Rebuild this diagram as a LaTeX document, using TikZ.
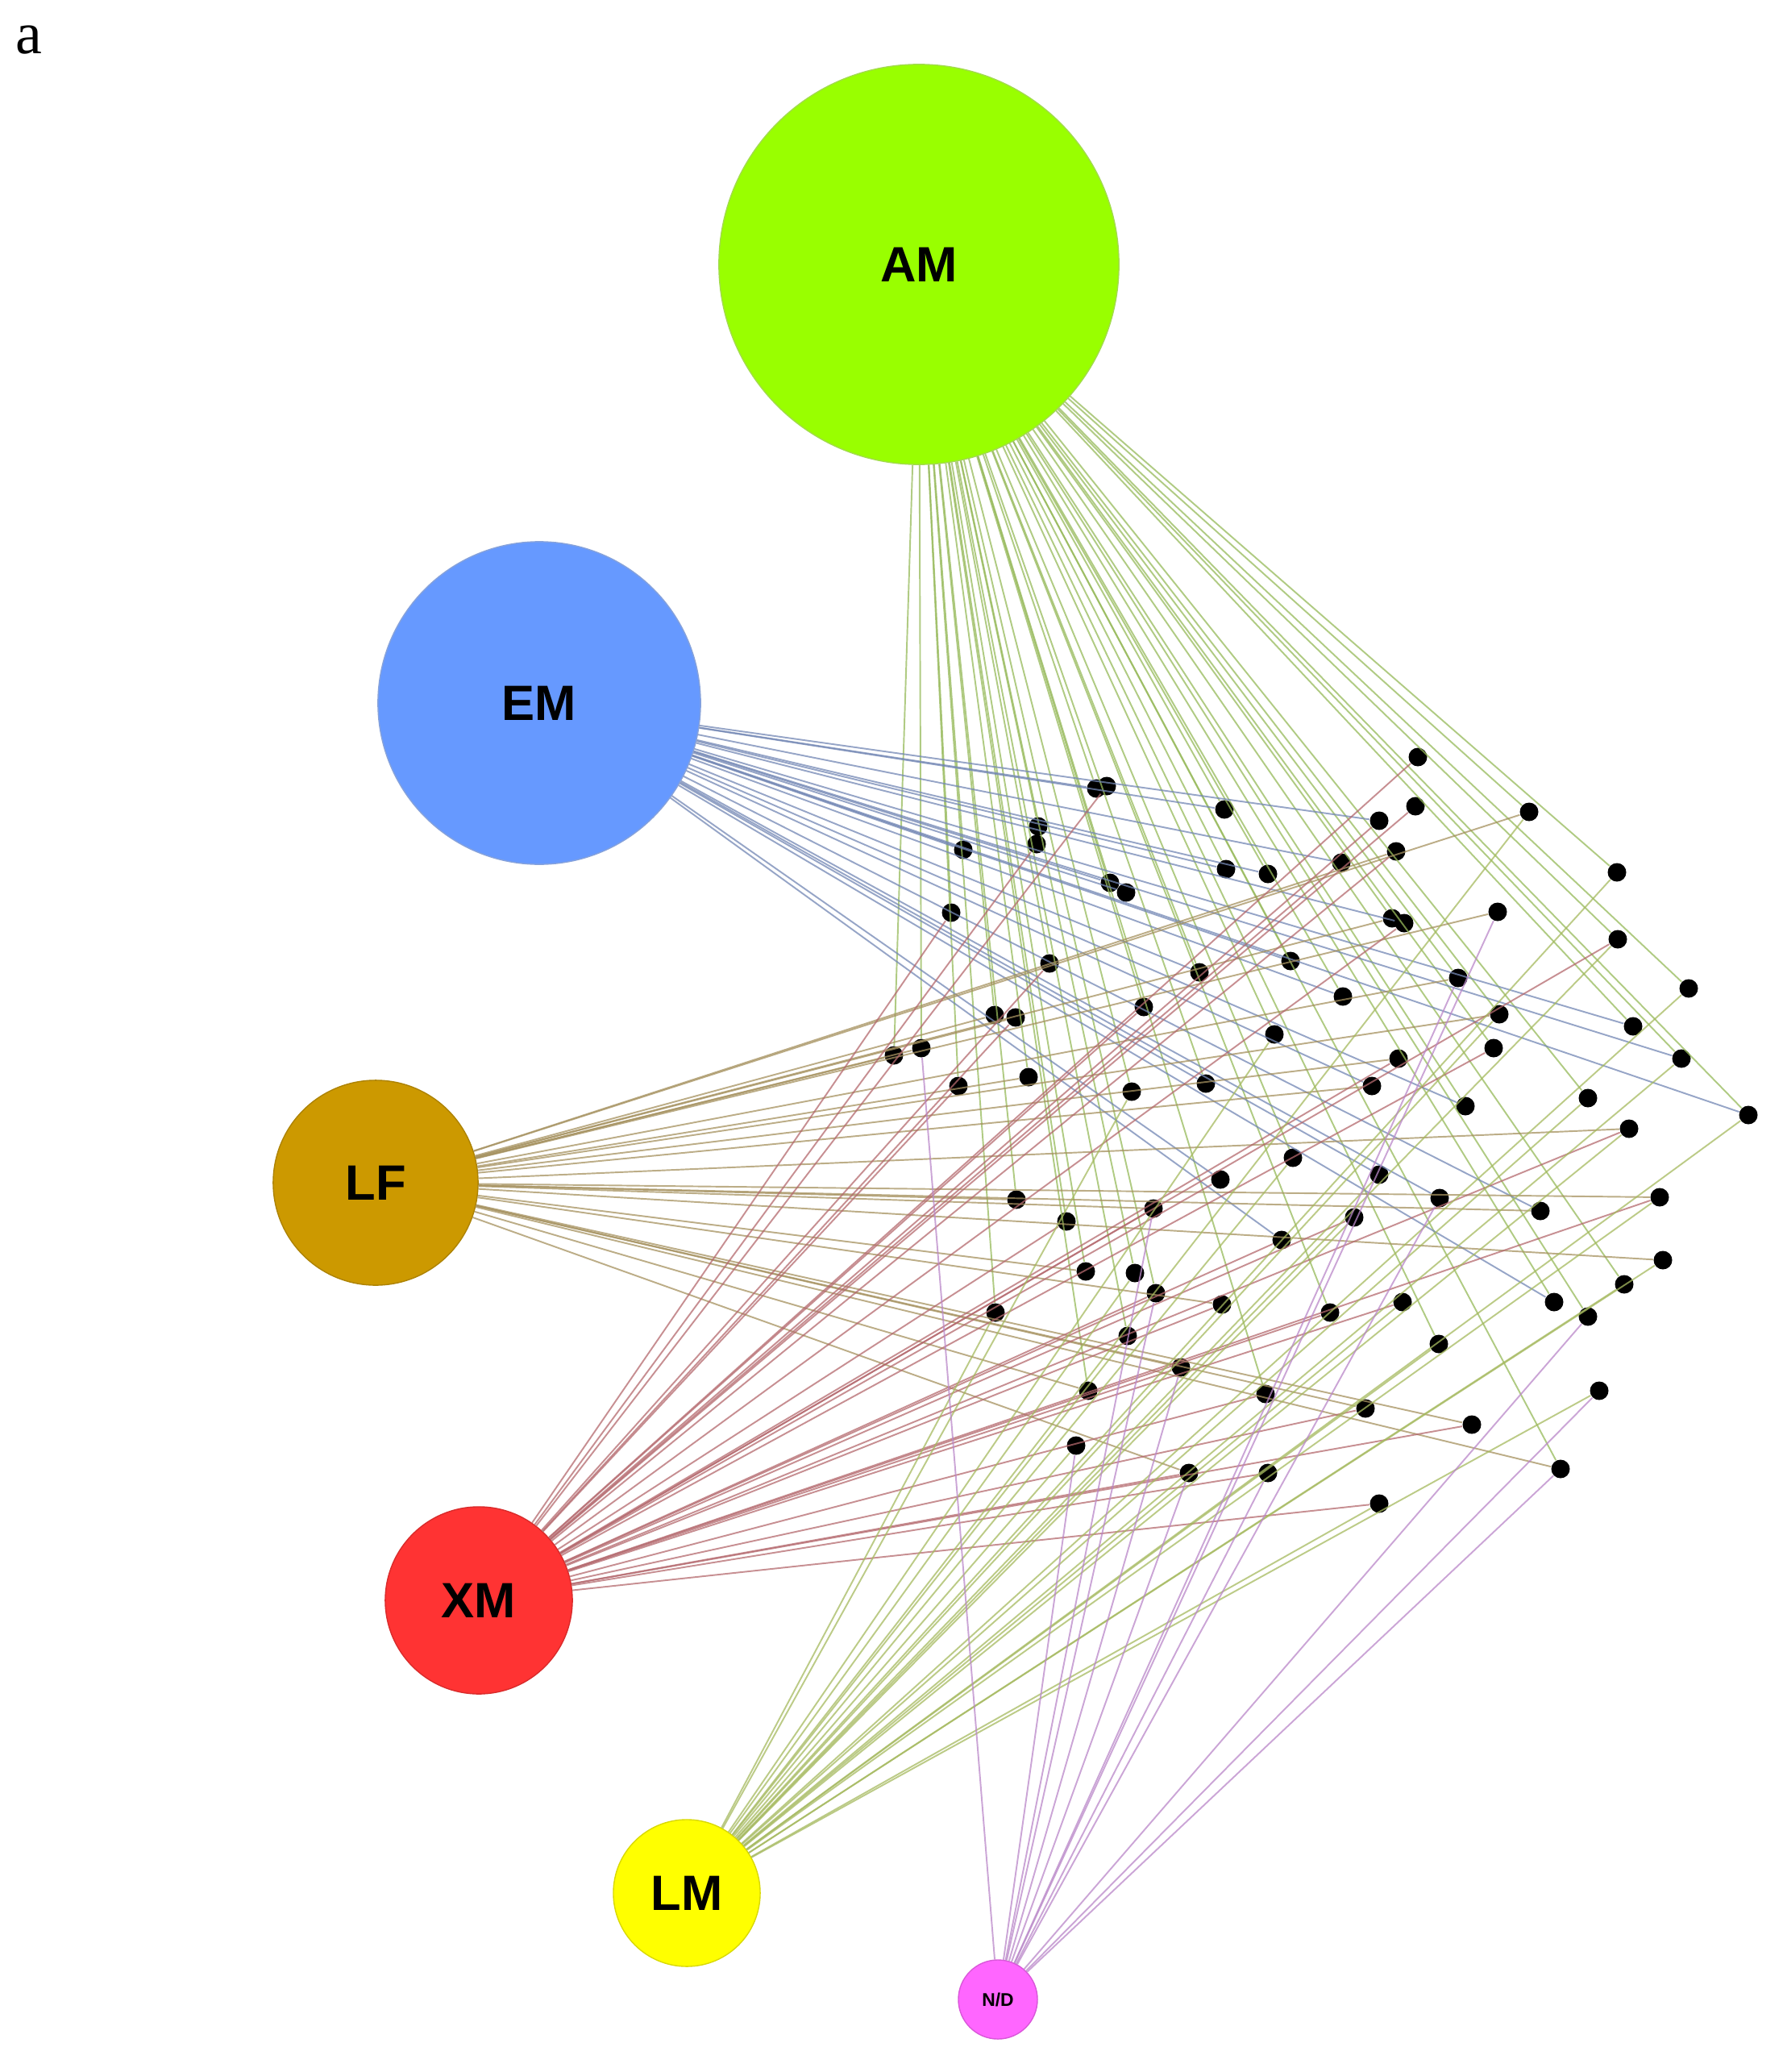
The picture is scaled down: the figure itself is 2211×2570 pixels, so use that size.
\documentclass[tikz,border=0pt]{standalone}
\usepackage{fontspec}
\setmainfont{Liberation Serif}
\setsansfont{Liberation Sans}
\usepackage{tikz}

\definecolor{amgreen}{RGB}{153,255,0}
\definecolor{emblue}{RGB}{102,153,255}
\definecolor{lfgold}{RGB}{204,153,0}
\definecolor{xmred}{RGB}{255,51,51}
\definecolor{lmyellow}{RGB}{255,255,0}
\definecolor{ndpink}{RGB}{255,102,255}

\definecolor{amedge}{RGB}{150,185,90}
\definecolor{emedge}{RGB}{115,135,180}
\definecolor{lfedge}{RGB}{165,145,95}
\definecolor{xmedge}{RGB}{180,105,110}
\definecolor{lmedge}{RGB}{165,185,95}
\definecolor{ndedge}{RGB}{185,135,200}

\tikzset{
  hub/.style={circle, inner sep=0pt, font=\sffamily\bfseries\fontsize{17.5}{20}\selectfont},
  dot/.style={circle, fill=black, inner sep=0pt, minimum size=0.23cm},
  link/.style={line width=0.55pt, opacity=0.75}
}

\begin{document}
\begin{tikzpicture}[x=0.01cm,y=-0.01cm]
			\useasboundingbox (0,0) rectangle (2211,2570);
			\node[font=\fontsize{21}{24}\selectfont] (panel) at (36,50) {a};
			
			% hubs
			\node[hub, fill=amgreen, draw=amgreen!80!black!70, minimum size=4.96cm] (AM) at (1140,328) {AM};
			\node[hub, fill=emblue, draw=emblue!80!black!70, minimum size=4.0cm] (EM) at (669,872) {EM};
			\node[hub, fill=lfgold, draw=lfgold!85!black, minimum size=2.54cm] (LF) at (466,1467) {LF};
			\node[hub, fill=xmred, draw=xmred!85!black, minimum size=2.32cm] (XM) at (594,1985) {XM};
			\node[hub, fill=lmyellow, draw=lmyellow!85!black, minimum size=1.82cm] (LM) at (852,2348) {LM};
			\node[hub, fill=ndpink, draw=ndpink!85!black, minimum size=0.98cm,
			      font=\sffamily\bfseries\fontsize{6.5}{7}\selectfont] (ND) at (1238,2480) {N/D};
			
			% species
			\foreach \x/\y [count=\i] in {
				1360/978, 1373/975, 1519/1004, 1288/1025, 1286/1047, 1195/1054, 1521/1078, 1573/1084,
				1377/1095, 1397/1107, 1180/1132, 1601/1192, 1302/1195, 1488/1206, 1419/1249, 1234/1259,
				1260/1262, 1581/1283, 1143/1300, 1109/1309, 1276/1336, 1189/1347, 1496/1344, 1404/1354,
				1759/939, 1756/1000, 1897/1007, 1711/1018, 1732/1056, 1664/1070, 2006/1082, 1858/1131,
				1727/1139, 1742/1145, 2007/1165, 1809/1213, 2095/1226, 1666/1236, 1860/1258, 2026/1273,
				1853/1300, 2086/1313, 1735/1313, 1702/1347, 1970/1362, 1818/1372, 2169/1383, 2021/1400,
				1604/1436, 1514/1463, 1261/1488, 1431/1499, 1323/1515, 1590/1538, 1347/1577, 1408/1579,
				1434/1604, 1516/1618, 1235/1628, 1399/1657, 1465/1696, 1350/1725, 1570/1729, 1335/1793,
				1475/1827, 1573/1827, 1711/1457, 1786/1486, 2059/1485, 1911/1502, 1680/1510, 2063/1563,
				2015/1593, 1928/1615, 1970/1633, 1740/1615, 1650/1628, 1785/1667, 1984/1725, 1694/1747,
				1826/1767, 1936/1822, 1711/1865}
				\node[dot] (d\i) at (\x,\y) {};
			
			% links
			\foreach \i in {1,3,4,6,7,8,9,11,12,13,14,15,16,18,19,20,21,22,23,24,27,31,33,35,36,37,38,
				39,40,41,42,45,46,47,49,51,53,55,56,57,59,60,62,63,73,74,75,77,78,82}
				\draw[link, amedge] (AM) -- (d\i);
			\foreach \i in {1,3,6,7,8,9,10,12,14,23,28,30,34,38,40,42,44,46,47,50,54,67,68,70,74}
				\draw[link, emedge] (EM) -- (d\i);
			\foreach \i in {16,17,19,20,21,27,29,32,33,36,39,43,44,48,51,52,55,58,61,62,65,69,70,72,80,81,82}
				\draw[link, lfedge] (LF) -- (d\i);
			\foreach \i in {2,5,11,13,15,17,22,25,26,28,29,30,34,35,41,43,48,50,52,53,54,57,58,61,63,65,
				66,69,71,76,77,80,81,83}
				\draw[link, xmedge] (XM) -- (d\i);
			\foreach \i in {18,24,27,31,35,37,39,42,45,47,48,49,56,59,60,64,67,69,71,72,73,76,78,79,83}
				\draw[link, lmedge] (LM) -- (d\i);
			\foreach \i in {19,32,36,52,57,61,64,65,66,68,75,79,82}
				\draw[link, ndedge] (ND) -- (d\i);
		\end{tikzpicture}
\end{document}
